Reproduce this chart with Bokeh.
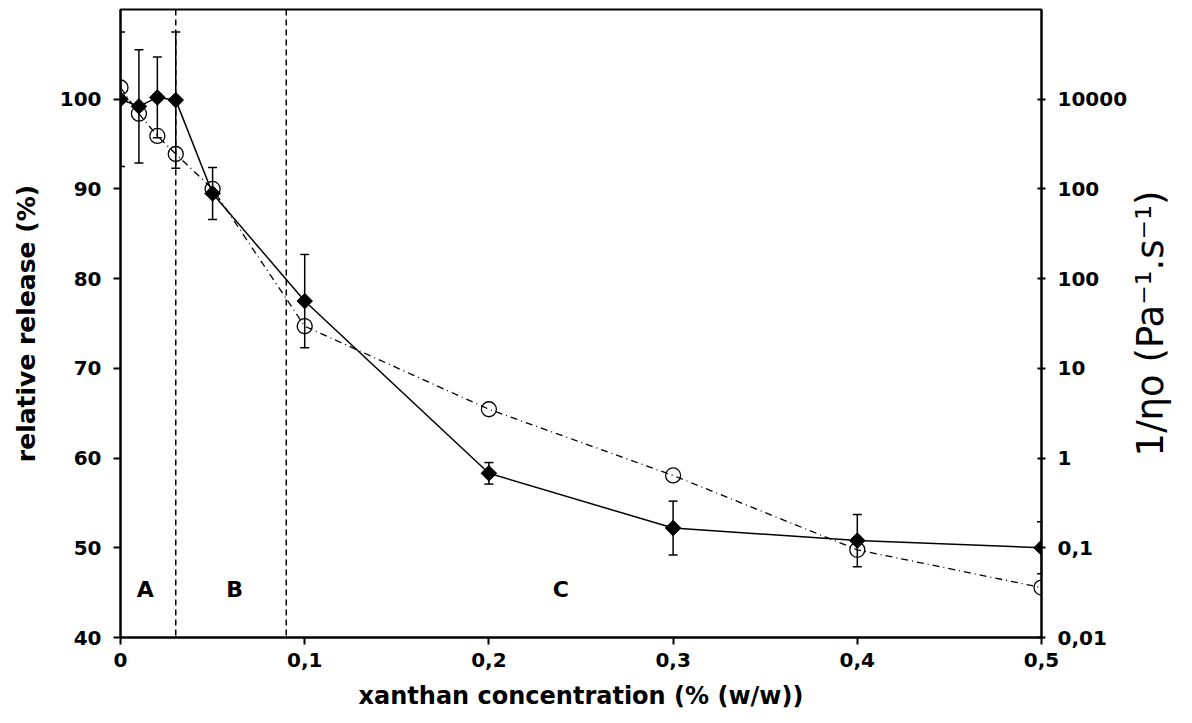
import math
from bokeh.plotting import figure
from bokeh.layouts import row
from bokeh.models import (Range1d, LogScale, LogAxis, FixedTicker, Span, Whisker,
                          TeeHead, ColumnDataSource, Label)
from bokeh.embed import file_html
from bokeh.resources import INLINE

# ---- data ----
x_conc = [0, 0.01, 0.02, 0.03, 0.05, 0.1, 0.2, 0.3, 0.4, 0.5]
release = [100.0, 99.2, 100.2, 99.9, 89.5, 77.5, 58.3, 52.2, 50.8, 50.0]
release_err = [7.5, 6.3, 4.5, 7.6, 2.9, 5.2, 1.2, 3.0, 2.9, 2.9]
inv_visc = [13500, 6900, 3900, 2450, 1000, 29.5, 3.5, 0.64, 0.095, 0.036]

x_ticks = [0, 0.1, 0.2, 0.3, 0.4, 0.5]
x_tick_labels = ["0", "0,1", "0,2", "0,3", "0,4", "0,5"]
left_ticks = [40, 50, 60, 70, 80, 90, 100]
right_ticks = [0.01, 0.1, 1, 10, 100, 1000, 10000]
right_tick_labels = ["0,01", "0,1", "1", "10", "100", "100", "10000"]

region_bounds = [0.03, 0.09]
region_names = ["A", "B", "C"]
region_x = [0.0135, 0.062, 0.239]
region_y = [45.4, 45.4, 45.4]

right_title = "1/ηo (Pa⁻¹.s⁻¹)"

FONT = "DejaVu Sans"
INK = "black"
H = 720
TOP, BOTTOM = 9, 83

p = figure(width=1130, height=H, x_range=Range1d(0, 0.5), y_range=Range1d(40, 110),
           output_backend="svg", toolbar_location=None,
           min_border_left=120, min_border_right=86, min_border_top=TOP,
           min_border_bottom=BOTTOM)
p.extra_y_ranges = {"visc": Range1d(0.01, 1e5)}
p.extra_y_scales = {"visc": LogScale()}

p.xgrid.visible = False
p.ygrid.visible = False
p.outline_line_color = INK
p.outline_line_width = 2
p.background_fill_color = "white"
p.border_fill_color = "white"


def style_axis(ax, tick_out, tick_in, label_standoff):
    ax.major_label_text_font = FONT
    ax.major_label_text_font_style = "bold"
    ax.major_label_text_font_size = "20px"
    ax.major_label_text_color = INK
    ax.major_label_standoff = label_standoff
    ax.axis_line_width = 2
    ax.axis_line_color = INK
    ax.major_tick_line_width = 2
    ax.major_tick_line_color = INK
    ax.major_tick_out = tick_out
    ax.major_tick_in = tick_in
    ax.minor_tick_line_color = None
    ax.axis_label_text_font = FONT
    ax.axis_label_text_font_style = "bold"
    ax.axis_label_text_color = INK


# left axis
ya = p.yaxis[0]
ya.ticker = FixedTicker(ticks=left_ticks)
style_axis(ya, 7, 0, 12)
ya.axis_label = "relative release (%)"
ya.axis_label_text_font_size = "25px"
ya.axis_label_standoff = 16

# bottom axis
xa = p.xaxis[0]
xa.ticker = FixedTicker(ticks=x_ticks)
xa.major_label_overrides = dict(zip(x_ticks, x_tick_labels))
style_axis(xa, 7, 0, 8)
xa.axis_label = "xanthan concentration (% (w/w))"
xa.axis_label_text_font_size = "24px"
xa.axis_label_standoff = 12

# right log axis
ra = LogAxis(y_range_name="visc", ticker=FixedTicker(ticks=right_ticks))
ra.major_label_overrides = dict(zip(right_ticks, right_tick_labels))
style_axis(ra, 4, 4, 12)
p.add_layout(ra, "right")

# region separators
for b in region_bounds:
    p.add_layout(Span(location=b, dimension="height", line_color=INK,
                      line_width=1.5, line_dash="6 4"))

for name, rx, ry in zip(region_names, region_x, region_y):
    p.add_layout(Label(x=rx, y=ry, text=name, text_font=FONT, text_font_style="bold",
                       text_font_size="22px", text_color=INK,
                       text_align="center", text_baseline="middle"))

src = ColumnDataSource(dict(
    x=x_conc, rel=release,
    upper=[r + e for r, e in zip(release, release_err)],
    lower=[r - e for r, e in zip(release, release_err)],
    visc=inv_visc,
))

# viscosity series (right axis)
p.line("x", "visc", source=src, y_range_name="visc", line_color=INK,
       line_width=1.3, line_dash="7 4 1 4")
p.scatter("x", "visc", source=src, y_range_name="visc", marker="circle", size=15,
          fill_color=None, line_color=INK, line_width=1.3)

# release series (left axis)
p.add_layout(Whisker(source=src, base="x", upper="upper", lower="lower",
                     line_color=INK, line_width=1.5,
                     upper_head=TeeHead(size=9, line_width=1.5, line_color=INK),
                     lower_head=TeeHead(size=9, line_width=1.5, line_color=INK)))
p.line("x", "rel", source=src, line_color=INK, line_width=1.5)
p.scatter("x", "rel", source=src, marker="square", angle=0.785398, size=11,
          fill_color=INK, line_color=INK, line_width=1)

# narrow side panel holding the right-axis title (reads bottom to top)
t = figure(width=58, height=H, x_range=Range1d(0, 58), y_range=Range1d(40, 110),
           output_backend="svg", toolbar_location=None,
           x_axis_type=None, y_axis_type=None,
           min_border_left=0, min_border_right=0, min_border_top=TOP,
           min_border_bottom=BOTTOM)
t.xgrid.visible = False
t.ygrid.visible = False
t.outline_line_color = None
t.background_fill_color = "white"
t.border_fill_color = "white"
t.add_layout(Label(x=20, y=75, text=right_title, angle=math.pi / 2,
                   text_font=FONT, text_font_size="37px", text_color=INK,
                   text_align="center", text_baseline="middle"))

layout = row(p, t, spacing=0)
open("out.html", "w").write(file_html(layout, INLINE))
